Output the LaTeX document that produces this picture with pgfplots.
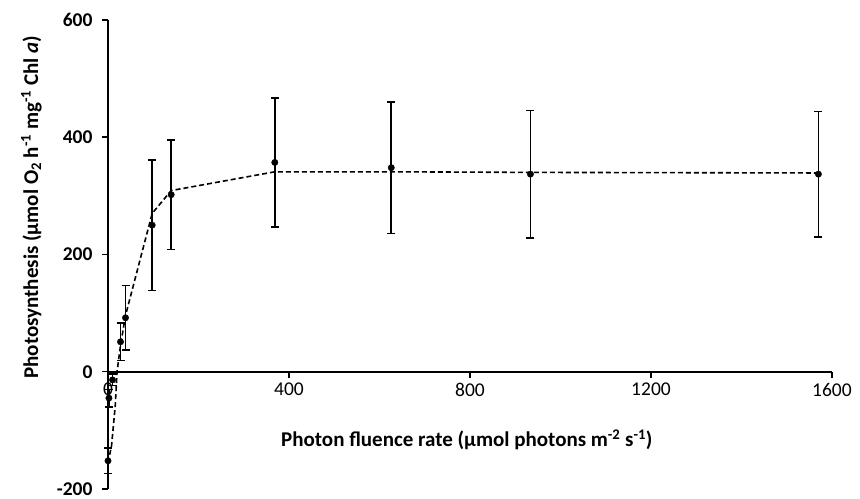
\documentclass[border=0pt]{standalone}
\usepackage{pgfplots}
\pgfplotsset{compat=1.18}
\usepackage{fontspec}
\setmainfont{Carlito}
\begin{document}
\begin{tikzpicture}
\begin{axis}[
  scale only axis, width=724bp, height=469bp,
  xmin=0, xmax=1600, ymin=-200, ymax=600,
  axis x line=middle, axis y line=left,
  axis line style={-, line width=1.8bp, black},
  xtick={0,400,800,1200,1600}, ytick={-200,0,200,400,600},
  hide obscured x ticks=false, hide obscured y ticks=false,
  tick align=outside, major tick length=6bp,
  tick style={line width=1.5bp, black},
  yticklabel style={xshift=-6bp, font=\fontsize{19.5bp}{21bp}\selectfont\bfseries},
  xticklabel style={yshift=-2bp, font=\fontsize{19.5bp}{21bp}\selectfont},
  /pgf/number format/assume math mode=true,
  /pgf/number format/1000 sep={},
  clip=false,
  every axis x label/.style={at={(axis cs:793,-116)}, anchor=center, font=\fontsize{21bp}{23bp}\selectfont\bfseries},
  every axis y label/.style={at={(axis description cs:-0.106,0.601)}, rotate=90, anchor=center, font=\fontsize{21bp}{23bp}\selectfont\bfseries},
  xlabel={Photon fluence rate (µmol photons m\textsuperscript{-2} s\textsuperscript{-1})},
  ylabel={Photosynthesis (µmol O\textsubscript{2} h\textsuperscript{-1} mg\textsuperscript{-1} Chl \textit{a})},
]
\draw[draw=none] (axis description cs:-0.1492,-0.0171) rectangle (axis description cs:1.0387,1.0426);
\addplot[black, line width=1.6bp, dash pattern=on 5bp off 3bp, no marks] coordinates {
(0,-155) (7.7,-127) (16,-58) (20,0) (27.6,45) (38.7,96) (97.6,270) (139.6,309) (368.6,341) (626,341) (933.5,340) (1570,339)
};
\addplot[black, only marks, mark=*, mark size=3.2bp,
  error bars/.cd, y dir=both, y explicit,
  error bar style={line width=1.6bp, black},
  error mark options={rotate=90, mark size=4bp, line width=1.3bp}]
coordinates {
(0,-152) +- (0,22)
(2,-45) +- (0,15)
(10,-14) +- (0,10)
(27.6,51) +- (0,32)
(38.7,92) +- (0,55)
(97.6,250) +- (0,111)
(139.6,302) +- (0,93)
(368.6,357) +- (0,110)
(626,348) +- (0,112)
(933.5,337) +- (0,109)
(1570,337) +- (0,107)
};
\end{axis}
\end{tikzpicture}
\end{document}
